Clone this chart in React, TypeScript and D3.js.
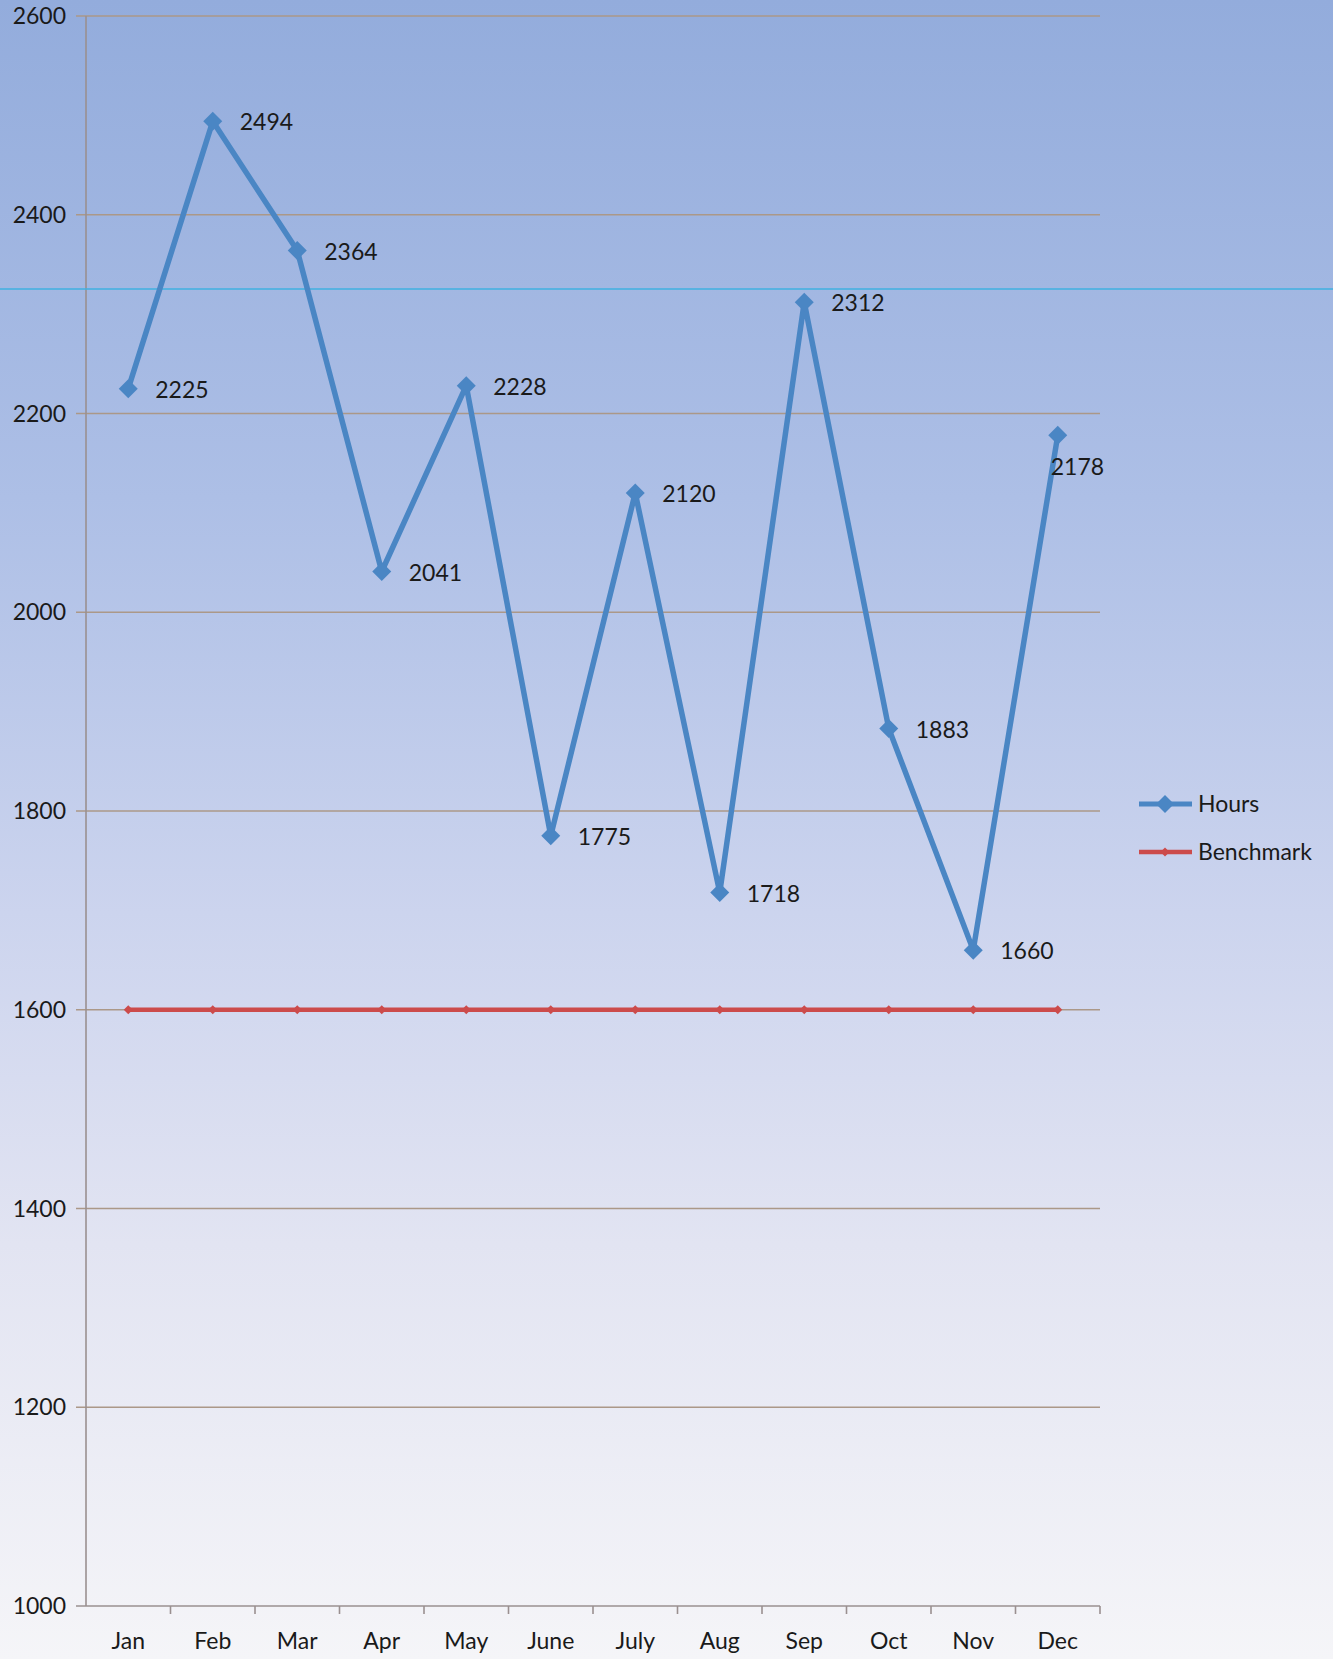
import React, { useEffect } from "react";
import * as d3 from "d3";

const months = ["Jan", "Feb", "Mar", "Apr", "May", "June", "July", "Aug", "Sep", "Oct", "Nov", "Dec"];
const hours = [2225, 2494, 2364, 2041, 2228, 1775, 2120, 1718, 2312, 1883, 1660, 2178];
const benchmark = [1600, 1600, 1600, 1600, 1600, 1600, 1600, 1600, 1600, 1600, 1600, 1600];
const yTicks = [1000, 1200, 1400, 1600, 1800, 2000, 2200, 2400, 2600];
const seriesNames = ["Hours", "Benchmark"];

const W = 1333;
const H = 1659;
const left = 86;
const right = 1100;
const top = 16;
const bottom = 1606;
const FONT = "Lato, 'Open Sans', sans-serif";
const FS = 23;
const BLUE = "#4a86c4";
const RED = "#cc4b4b";

export default function App() {
  useEffect(() => {
    document.body.style.margin = "0";
  }, []);

  const x = d3.scaleBand<string>().domain(months).range([left, right]);
  const y = d3.scaleLinear().domain([1000, 2600]).range([bottom, top]);
  const cx = (m: string) => (x(m) as number) + x.bandwidth() / 2;

  const line = d3
    .line<number>()
    .x((_, i) => cx(months[i]))
    .y((d) => y(d));

  const diamond = (px: number, py: number, r: number) =>
    `M${px},${py - r}L${px + r},${py}L${px},${py + r}L${px - r},${py}Z`;

  return (
    <svg width={W} height={H} style={{ display: "block" }} fontFamily={FONT}>
      <defs>
        <linearGradient id="bg" x1="0" y1="0" x2="0" y2="1">
          <stop offset="0" stopColor="#93acdc" />
          <stop offset="0.3" stopColor="#adbfe6" />
          <stop offset="0.55" stopColor="#ccd4ee" />
          <stop offset="0.75" stopColor="#e2e4f2" />
          <stop offset="1" stopColor="#f5f5f8" />
        </linearGradient>
      </defs>
      <rect x={0} y={0} width={W} height={H} fill="url(#bg)" />

      {yTicks.slice(1).map((t) => (
        <line key={t} x1={left - 10} x2={right} y1={y(t)} y2={y(t)} stroke="#ab9888" strokeWidth={1.6} />
      ))}
      {yTicks.map((t) => (
        <text key={t} x={66} y={y(t)} dy="0.35em" textAnchor="end" fontSize={FS} fill="#1a1a1a">
          {t}
        </text>
      ))}
      <line x1={left} x2={left} y1={top} y2={bottom} stroke="#9a9090" strokeWidth={1.6} />
      <line x1={left - 10} x2={right} y1={bottom} y2={bottom} stroke="#9a9090" strokeWidth={1.6} />
      {months.map((m) => (
        <line
          key={m}
          x1={(x(m) as number) + x.bandwidth()}
          x2={(x(m) as number) + x.bandwidth()}
          y1={bottom}
          y2={bottom + 8}
          stroke="#9a9090"
          strokeWidth={1.6}
        />
      ))}
      {months.map((m) => (
        <text key={m} x={cx(m)} y={1641} dy="0.35em" textAnchor="middle" fontSize={FS} fill="#1a1a1a">
          {m}
        </text>
      ))}

      <line x1={0} x2={W} y1={289} y2={289} stroke="#3fb0e0" strokeWidth={1.5} />

      <path d={line(benchmark) as string} fill="none" stroke={RED} strokeWidth={4.5} />
      {benchmark.map((v, i) => (
        <path key={i} d={diamond(cx(months[i]), y(v), 4.5)} fill={RED} />
      ))}

      <path d={line(hours) as string} fill="none" stroke={BLUE} strokeWidth={5.5} strokeLinejoin="round" />
      {hours.map((v, i) => (
        <path key={i} d={diamond(cx(months[i]), y(v), 9.5)} fill={BLUE} />
      ))}
      {hours.map((v, i) => {
        const last = i === hours.length - 1;
        return (
          <text
            key={i}
            x={cx(months[i]) + (last ? -7 : 27)}
            y={y(v) + (last ? 32 : 1)}
            dy="0.35em"
            fontSize={FS}
            fill="#1a1a1a"
          >
            {v}
          </text>
        );
      })}

      <g>
        <line x1={1139} x2={1192} y1={804} y2={804} stroke={BLUE} strokeWidth={5} />
        <path d={diamond(1165, 804, 9)} fill={BLUE} />
        <text x={1198} y={804} dy="0.35em" fontSize={FS} fill="#1a1a1a">
          {seriesNames[0]}
        </text>
        <line x1={1139} x2={1192} y1={852} y2={852} stroke={RED} strokeWidth={4.5} />
        <path d={diamond(1165, 852, 4.5)} fill={RED} />
        <text x={1198} y={852} dy="0.35em" fontSize={FS} fill="#1a1a1a">
          {seriesNames[1]}
        </text>
      </g>
    </svg>
  );
}
